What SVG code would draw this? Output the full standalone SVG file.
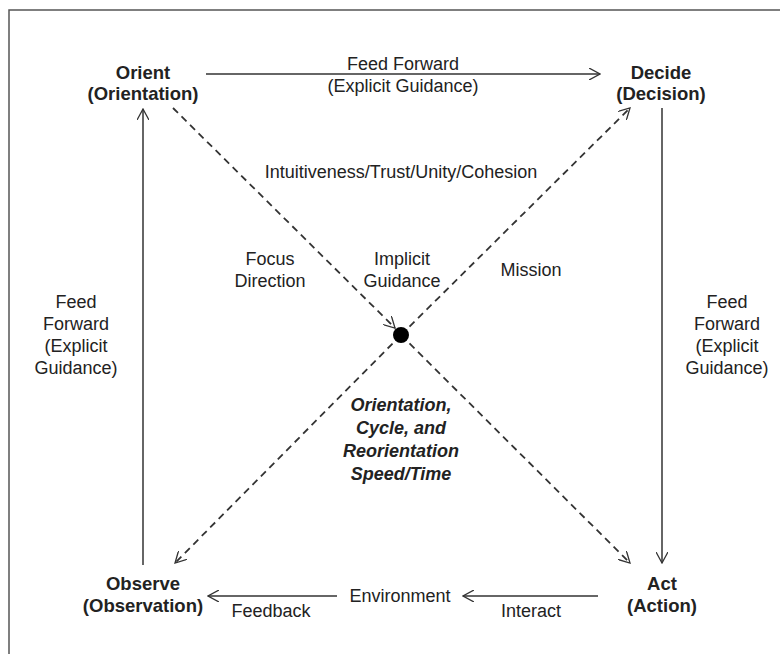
<svg xmlns="http://www.w3.org/2000/svg" width="780" height="654" viewBox="0 0 780 654">
<defs>
<marker id="arr" viewBox="0 0 12 12" refX="11" refY="6" markerWidth="12" markerHeight="12" markerUnits="userSpaceOnUse" orient="auto">
<path d="M0,0 L11,6 L0,12" fill="none" stroke="#333" stroke-width="1.3"/>
</marker>
<style>
text{font-family:"Liberation Sans",Arial,sans-serif;fill:#222;text-anchor:middle}
.n{font-size:18.5px;font-weight:bold}
.l{font-size:18px}
.c{font-size:18px;font-weight:bold;font-style:italic}
.s{stroke:#333;stroke-width:1.5;fill:none}
.d{stroke:#333;stroke-width:1.8;fill:none;stroke-dasharray:7,5}
</style>
</defs>
<rect x="9" y="10" width="800" height="700" fill="#fff" stroke="#555" stroke-width="1.5"/>
<g id="connectors">
<line class="s" x1="206" y1="74" x2="600" y2="74" marker-end="url(#arr)"/>
<line class="s" x1="143" y1="565" x2="143" y2="109" marker-end="url(#arr)"/>
<line class="s" x1="662" y1="108" x2="662" y2="563" marker-end="url(#arr)"/>
<line class="s" x1="598" y1="596" x2="463" y2="596" marker-end="url(#arr)"/>
<line class="s" x1="337" y1="596" x2="208" y2="596" marker-end="url(#arr)"/>
<line class="d" x1="173" y1="108" x2="395" y2="328" marker-end="url(#arr)"/>
<line class="d" x1="401" y1="335" x2="630" y2="108" marker-end="url(#arr)"/>
<line class="d" x1="401" y1="335" x2="175" y2="563" marker-end="url(#arr)"/>
<line class="d" x1="401" y1="335" x2="630" y2="563" marker-end="url(#arr)"/>
<circle cx="401" cy="335" r="8" fill="#000"/>
<text class="l" x="403" y="70">Feed Forward</text>
<text class="l" x="403" y="92">(Explicit Guidance)</text>
<text class="l" x="401" y="178">Intuitiveness/Trust/Unity/Cohesion</text>
<text class="l" x="270" y="265">Focus</text>
<text class="l" x="270" y="287">Direction</text>
<text class="l" x="402" y="265">Implicit</text>
<text class="l" x="402" y="287">Guidance</text>
<text class="l" x="531" y="276">Mission</text>
<text class="l" x="76" y="308">Feed</text>
<text class="l" x="76" y="330">Forward</text>
<text class="l" x="76" y="352">(Explicit</text>
<text class="l" x="76" y="374">Guidance)</text>
<text class="l" x="727" y="308">Feed</text>
<text class="l" x="727" y="330">Forward</text>
<text class="l" x="727" y="352">(Explicit</text>
<text class="l" x="727" y="374">Guidance)</text>
<text class="l" x="271" y="617">Feedback</text>
<text class="l" x="531" y="617">Interact</text>
<text class="c" x="401" y="411">Orientation,</text>
<text class="c" x="401" y="434">Cycle, and</text>
<text class="c" x="401" y="457">Reorientation</text>
<text class="c" x="401" y="480">Speed/Time</text>
</g>
<g id="environment"><text class="l" x="400" y="602">Environment</text></g>
<g id="orient"><text class="n" x="143" y="79">Orient</text><text class="n" x="143" y="100">(Orientation)</text></g>
<g id="decide"><text class="n" x="661" y="79">Decide</text><text class="n" x="661" y="100">(Decision)</text></g>
<g id="observe"><text class="n" x="143" y="590">Observe</text><text class="n" x="143" y="612">(Observation)</text></g>
<g id="act"><text class="n" x="662" y="590">Act</text><text class="n" x="662" y="612">(Action)</text></g>
</svg>
